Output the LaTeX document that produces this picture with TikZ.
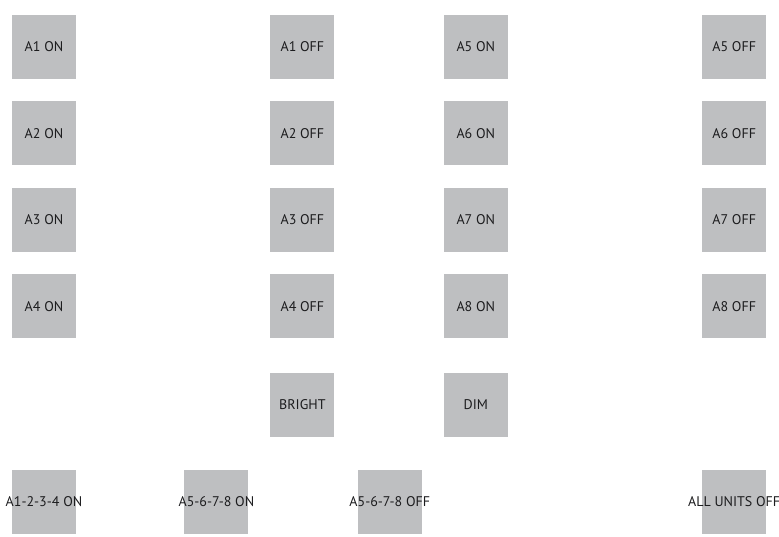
\documentclass[tikz,border=0pt]{standalone}
\usepackage{fontspec}
\setmainfont{PT Sans}
\usetikzlibrary{positioning}
\definecolor{keygray}{RGB}{190,191,193}
\definecolor{keytext}{RGB}{28,28,30}
\newcommand{\lbl}[1]{\makebox[0pt]{#1}}

\begin{document}
\begin{tikzpicture}[
     node distance = 22pt and 194pt,
        btn/.style = {rectangle, fill=keygray, minimum size=64pt, inner sep=0pt,
                      text=keytext, font=\fontsize{14}{16}\selectfont}
                        ]
\useasboundingbox (0,0) rectangle (779pt,-537pt);
\node (a1on) [btn] at (44pt,-47pt) {\lbl{A1 ON}};
\node (a2on) [btn,below =of a1on] {\lbl{A2 ON}};
\node (a3on) [btn,below =of a2on] {\lbl{A3 ON}};
\node (a4on) [btn,below =of a3on] {\lbl{A4 ON}};
\node (a1off) [btn,right =of a1on] {\lbl{A1 OFF}};
\node (a2off) [btn,below =of a1off] {\lbl{A2 OFF}};
\node (a3off) [btn,below =of a2off] {\lbl{A3 OFF}};
\node (a4off) [btn,below =of a3off] {\lbl{A4 OFF}};
\node (a5on) [btn,right =109pt of a1off] {\lbl{A5 ON}};
\node (a6on) [btn,below =of a5on] {\lbl{A6 ON}};
\node (a7on) [btn,below =of a6on] {\lbl{A7 ON}};
\node (a8on) [btn,below =of a7on] {\lbl{A8 ON}};
\node (a5off) [btn,right =of a5on] {\lbl{A5 OFF}};
\node (a6off) [btn,below =of a5off] {\lbl{A6 OFF}};
\node (a7off) [btn,below =of a6off] {\lbl{A7 OFF}};
\node (a8off) [btn,below =of a7off] {\lbl{A8 OFF}};
\node (bright) [btn,below =34pt of a4off] {\lbl{BRIGHT}};
\node (dim) [btn,below =34pt of a8on] {\lbl{DIM}};
\node (a1234on) [btn,below =131pt of a4on] {\lbl{A1-2-3-4 ON}};
\node (a5678on) [btn,right =108pt of a1234on] {\lbl{A5-6-7-8 ON}};
\node (a5678off) [btn,right =109pt of a5678on] {\lbl{A5-6-7-8 OFF}};
\node (alloff) [btn] at (a8off |- a1234on) {\lbl{ALL UNITS OFF}};
\end{tikzpicture}
\end{document}
